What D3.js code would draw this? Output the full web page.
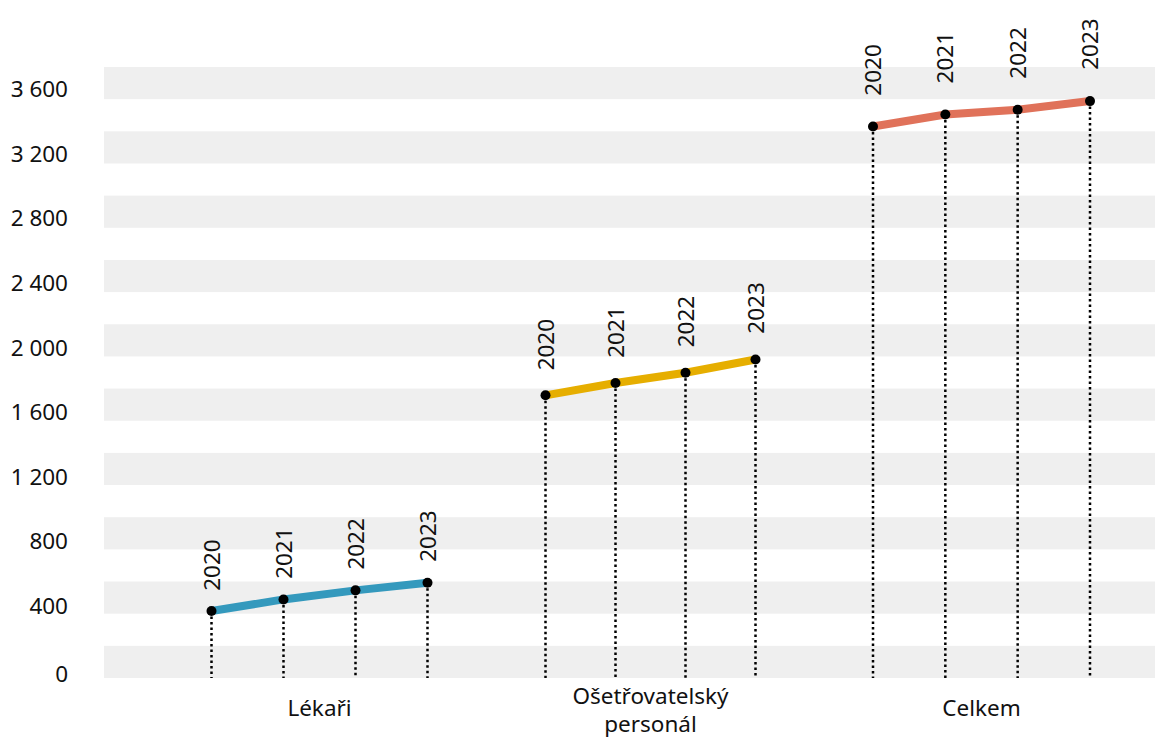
<!DOCTYPE html>
<html>
<head>
<meta charset="utf-8">
<script src="https://cdn.jsdelivr.net/npm/d3@7"></script>
<style>
  body { margin: 0; background: #fff; }
  text { font-family: "Noto Sans", "Open Sans", sans-serif; fill: #111; }
</style>
</head>
<body>
<div id="content"></div>
<script>
// data
let categories = ["Lékaři", "Ošetřovatelský personál", "Celkem"];
let categoryLines = [["Lékaři"], ["Ošetřovatelský", "personál"], ["Celkem"]];
let years = ["2020", "2021", "2022", "2023"];
let lekari = [371, 443, 499, 546];
let osetrovatelsky = [1706, 1782, 1846, 1928];
let celkem = [3370, 3444, 3473, 3527];
let yTicks = [0, 400, 800, 1200, 1600, 2000, 2400, 2800, 3200, 3600];
let colors = ["#3499bd", "#e6ae00", "#e0725a"];

let series = [lekari, osetrovatelsky, celkem];

let width = 1155;
let height = 737;
let plotLeft = 104, plotRight = 1155, plotTop = 67, plotBottom = 678;
let fontSize = "22.5px";
let groupSpan = [216, 210, 217];   // width covered by the four years in each group

let svg = d3.select("#content").append("svg")
                               .attr("width", width)
                               .attr("height", height);

let y = d3.scaleLinear().domain([0, 3600]).range([671, 89.3]);
let x = d3.scaleBand().domain(categories).range([154, 1147]).padding(0);

// alternating grey stripes, starting from the bottom
let stripes = d3.scaleBand().domain(d3.range(19)).range([plotBottom, plotTop]);
svg.append("g").selectAll("rect")
   .data(d3.range(0, 19, 2))
   .enter().append("rect")
   .attr("x", plotLeft)
   .attr("width", plotRight - plotLeft)
   .attr("y", d => stripes(d))
   .attr("height", stripes.bandwidth())
   .style("fill", "#efefef");

// y axis
let czech = d3.formatLocale({decimal: ",", thousands: "\u00a0", grouping: [3], currency: ["", " Kč"]});
let yAxis = svg.append("g")
               .attr("transform", "translate(68,0)")
               .call(d3.axisLeft(y).tickValues(yTicks).tickSize(0).tickPadding(0)
                                   .tickFormat(czech.format(",")));
yAxis.select(".domain").remove();
yAxis.selectAll("text")
     .style("font-family", "\"Noto Sans\", sans-serif")
     .style("font-size", fontSize)
     .style("fill", "#111")
     .attr("dy", d => d == 0 ? "0.46em" : "0.32em");

// groups
let groups = svg.selectAll("g.group")
                .data(categories)
                .enter().append("g")
                .attr("class", "group")
                .attr("transform", d => "translate(" + (x(d) + x.bandwidth() / 2) + ",0)");

groups.each(function(cat, i) {
  let g = d3.select(this);
  let values = series[i];
  let pts = years.map((yr, k) => ({year: yr, value: values[k]}));
  let xYear = d3.scalePoint().domain(years).range([-groupSpan[i] / 2, groupSpan[i] / 2]);

  // dotted drop lines
  g.selectAll("line.drop")
   .data(pts).enter().append("line")
   .attr("x1", d => xYear(d.year)).attr("x2", d => xYear(d.year))
   .attr("y1", d => y(d.value)).attr("y2", plotBottom)
   .style("stroke", "#000")
   .style("stroke-width", 2.5)
   .style("stroke-dasharray", "2.5,3");

  // line
  let line = d3.line().x(d => xYear(d.year)).y(d => y(d.value));
  g.append("path")
   .datum(pts)
   .attr("d", line)
   .style("fill", "none")
   .style("stroke", colors[i])
   .style("stroke-width", 8);

  // points
  g.selectAll("circle")
   .data(pts).enter().append("circle")
   .attr("cx", d => xYear(d.year))
   .attr("cy", d => y(d.value))
   .attr("r", 5)
   .style("fill", "#000");

  // year labels
  g.selectAll("text.year")
   .data(pts).enter().append("text")
   .attr("class", "year")
   .attr("transform", d => "translate(" + xYear(d.year) + "," + (y(d.value) - 19 - d.value * 0.0035) + ") rotate(-90)")
   .attr("dy", "0.36em")
   .style("font-size", fontSize)
   .text(d => d.year);

  // category label, one text per line
  let lines = categoryLines[i];
  g.selectAll("text.cat")
   .data(lines).enter().append("text")
   .attr("class", "cat")
   .attr("text-anchor", "middle")
   .attr("x", 0)
   .attr("y", (t, k) => lines.length == 1 ? 716 : 704 + k * 27.5)
   .style("font-size", fontSize)
   .text(t => t);
});
</script>
</body>
</html>
